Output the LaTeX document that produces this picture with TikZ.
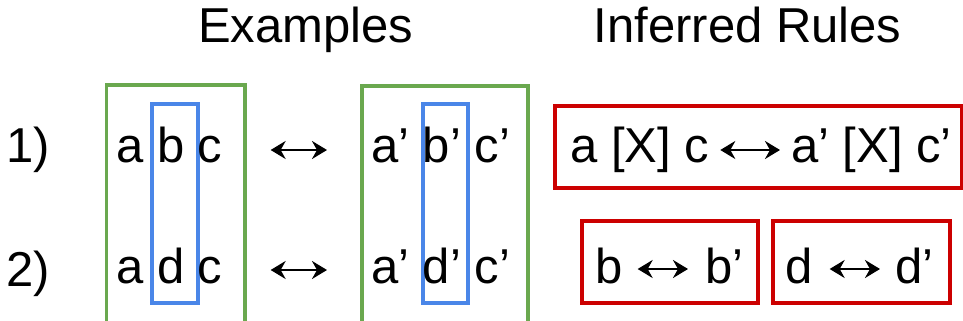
\documentclass[tikz,border=0pt]{standalone}
\usepackage{fontspec}
\setmainfont{Liberation Sans}
\usetikzlibrary{arrows.meta,calc}
\definecolor{gbox}{HTML}{6AA84F}
\definecolor{bbox}{HTML}{4A86E8}
\definecolor{rbox}{HTML}{CC0000}
\tikzset{
  txt/.style={anchor=base west, inner sep=0pt, font=\fontsize{49}{58}\selectfont},
  frame/.style={draw, line width=3.2pt, inner sep=0pt},
  greenframe/.style={frame, draw=gbox},
  blueframe/.style={frame, draw=bbox},
  redframe/.style={frame, draw=rbox},
  arr/.style={line width=2.8pt, {Stealth[length=15pt,width=18pt,inset=5pt]}-{Stealth[length=15pt,width=18pt,inset=5pt]}}
}
\begin{document}
\begin{tikzpicture}[x=1pt,y=-1pt]
\useasboundingbox (0,0) rectangle (963,321);
% titles
\node[txt] (tEx) at (198,43) {Examples};
\node[txt] (tIR) at (593.5,43) {Inferred Rules};
% row labels
\node[txt] (n1) at (6.5,162) {1)};
\node[txt] (n2) at (6.5,286) {2)};
% frames
\draw[greenframe] (106.5,85) rectangle (245,335);
\draw[greenframe] (362,86) rectangle (528,335);
\draw[blueframe] (152,104) rectangle (198,303);
\draw[blueframe] (423,104) rectangle (468,303);
% example rows
\node[txt] (L1) at (116,162) {a b c};
\node[txt] (L2) at (116,283) {a d c};
\node[txt] (R1) at (371,162) {a’ b’ c’};
\node[txt] (R2) at (371,283) {a’ d’ c’};
\draw[arr] ($(L1.base east)+(48,-12)$) -- ($(R1.base west)+(-44,-12)$);
\draw[arr] ($(L2.base east)+(48,-13)$) -- ($(R2.base west)+(-44,-13)$);
% rules
\draw[redframe] (555,106) rectangle (961.5,188);
\draw[redframe] (582,221) rectangle (758,303);
\draw[redframe] (773,221) rectangle (950,303);
\node[txt] (RA) at (570,162) {a [X] c};
\node[txt] (RB) at (791,162) {a’ [X] c’};
\draw[arr] ($(RA.base east)+(11,-12)$) -- ($(RB.base west)+(-11,-12)$);
\node[txt] (Rb) at (595,283) {b};
\node[txt] (Rbp) at (705,283) {b’};
\draw[arr] ($(Rb.base east)+(15,-14)$) -- ($(Rbp.base west)+(-17,-14)$);
\node[txt] (Rd) at (785,283) {d};
\node[txt] (Rdp) at (895,283) {d’};
\draw[arr] ($(Rd.base east)+(17,-14)$) -- ($(Rdp.base west)+(-15,-14)$);
\end{tikzpicture}
\end{document}
